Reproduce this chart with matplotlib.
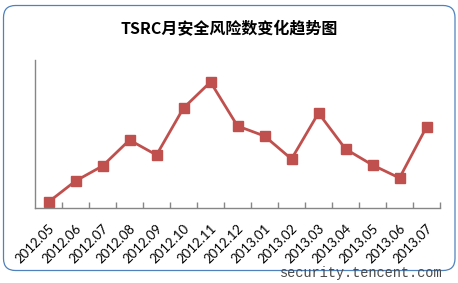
import matplotlib.pyplot as plt
from matplotlib.patches import FancyBboxPatch

months = ["2012.05", "2012.06", "2012.07", "2012.08", "2012.09", "2012.10",
          "2012.11", "2012.12", "2013.01", "2013.02", "2013.03", "2013.04",
          "2013.05", "2013.06", "2013.07"]
risk_counts = [6, 27, 42, 68, 53, 100, 126, 82, 72, 49, 95, 59, 43, 30, 81]

W, H = 458, 283
fig = plt.figure(figsize=(W / 100, H / 100), dpi=100)

# background frame with rounded corners
bg = fig.add_axes([0, 0, 1, 1])
bg.set_xlim(0, W)
bg.set_ylim(H, 0)
bg.axis("off")
bg.add_patch(FancyBboxPatch((3.5, 5.5), 451.5, 265, boxstyle="round,pad=0,rounding_size=12",
                            fc="white", ec="#4F81BD", lw=0.9))
bg.text(229, 29, "TSRC月安全风险数变化趋势图", ha="center", va="center",
        fontsize=11.5, fontweight="bold", family=["Noto Sans CJK SC", "DejaVu Sans"])
bg.text(361, 273, "security.tencent.com", ha="center", va="center",
        fontsize=9.8, color="#4a4a4a", family="Liberation Mono")

ax = fig.add_axes([35 / W, 1 - 208 / H, 405 / W, 148 / H])
ax.patch.set_alpha(0)
x = range(len(months))
ax.plot(x, risk_counts, color="#C0504D", lw=2.0, marker="s", ms=7,
        mfc="#C0504D", mec="#C0504D")
ax.set_xlim(-0.5, len(months) - 0.5)
ax.set_ylim(0, 148)

for s in ("top", "right"):
    ax.spines[s].set_visible(False)
for s in ("left", "bottom"):
    ax.spines[s].set_color("#868686")
    ax.spines[s].set_linewidth(1.0)

ax.set_yticks([])
ax.set_xticks(list(x))
ax.set_xticklabels(months, rotation=45, ha="right", rotation_mode="anchor",
                   fontsize=9.5, family="Lato")
ax.tick_params(axis="x", which="major", length=0, pad=10)
ax.set_xticks([i + 0.5 for i in x], minor=True)
ax.tick_params(axis="x", which="minor", direction="in", length=4.5,
               color="#868686", width=1.0)

fig.savefig("out.png", dpi=100)
